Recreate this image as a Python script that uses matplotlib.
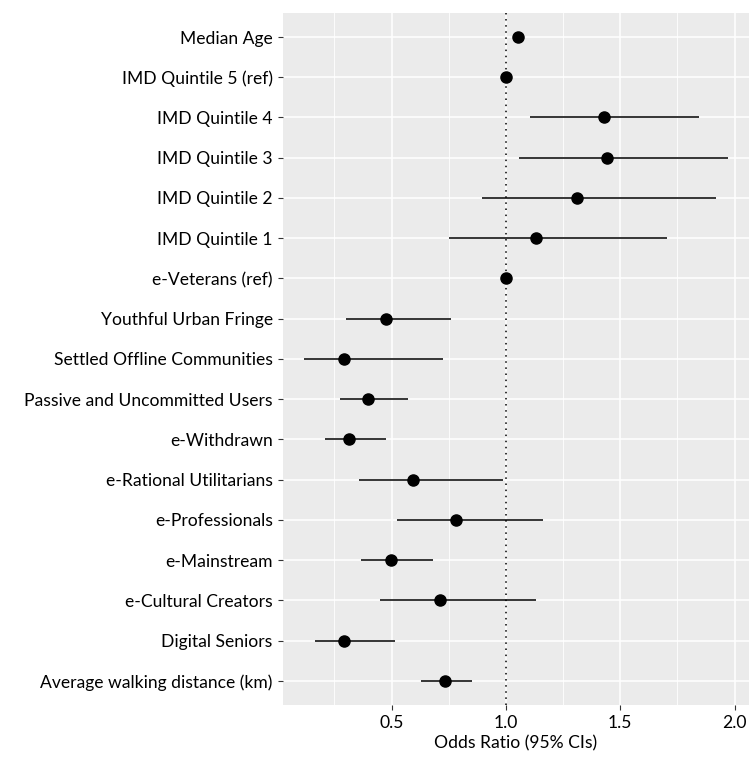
import numpy as np
import matplotlib.pyplot as plt

labels = ["Median Age", "IMD Quintile 5 (ref)", "IMD Quintile 4", "IMD Quintile 3",
          "IMD Quintile 2", "IMD Quintile 1", "e-Veterans (ref)", "Youthful Urban Fringe",
          "Settled Offline Communities", "Passive and Uncommitted Users", "e-Withdrawn",
          "e-Rational Utilitarians", "e-Professionals", "e-Mainstream",
          "e-Cultural Creators", "Digital Seniors", "Average walking distance (km)"]
odds = [1.053, 1.0, 1.43, 1.442, 1.31, 1.132, 1.0, 0.475, 0.294, 0.396, 0.314,
        0.594, 0.781, 0.499, 0.714, 0.290, 0.732]
ci_low = [1.045, 1.0, 1.107, 1.057, 0.894, 0.752, 1.0, 0.300, 0.119, 0.275, 0.209,
          0.357, 0.526, 0.367, 0.451, 0.164, 0.630]
ci_high = [1.061, 1.0, 1.843, 1.970, 1.920, 1.704, 1.0, 0.761, 0.726, 0.570, 0.475,
           0.988, 1.161, 0.681, 1.132, 0.514, 0.853]

plt.rcParams['font.family'] = ['Lato', 'DejaVu Sans']

fig = plt.figure(figsize=(7.49, 7.58), dpi=100)
ax = fig.add_axes([0.378, 0.070, 0.622, 0.913])

n = len(labels)
y = np.arange(n, 0, -1)

ax.set_facecolor('#EBEBEB')
for s in ax.spines.values():
    s.set_visible(False)

ax.hlines(y, ci_low, ci_high, color='black', lw=1.1, zorder=3)
ax.plot(odds, y, 'o', color='black', ms=8, zorder=4)
ax.axvline(1.0, color='black', ls=(0, (1, 3)), lw=1.1, zorder=2)

ax.set_xlim(0.026, 2.063)
ax.set_ylim(0.4, n + 0.6)
ax.set_xticks([0.5, 1.0, 1.5, 2.0])
ax.set_xticklabels(["0.5", "1.0", "1.5", "2.0"])
ax.set_xticks([0.25, 0.75, 1.25, 1.75], minor=True)
ax.set_yticks(y)
ax.set_yticklabels(labels)

ax.grid(which='major', color='white', lw=1.1, zorder=0)
ax.grid(which='minor', axis='x', color='white', lw=0.6, zorder=0)
ax.set_axisbelow(True)
ax.tick_params(which='major', length=3.5, color='#333333', labelsize=12.6, labelcolor='black', pad=4)
ax.tick_params(which='minor', length=0)

ax.set_xlabel("Odds Ratio (95% CIs)", fontsize=12.6, labelpad=3)

fig.savefig("out.png", dpi=100)
